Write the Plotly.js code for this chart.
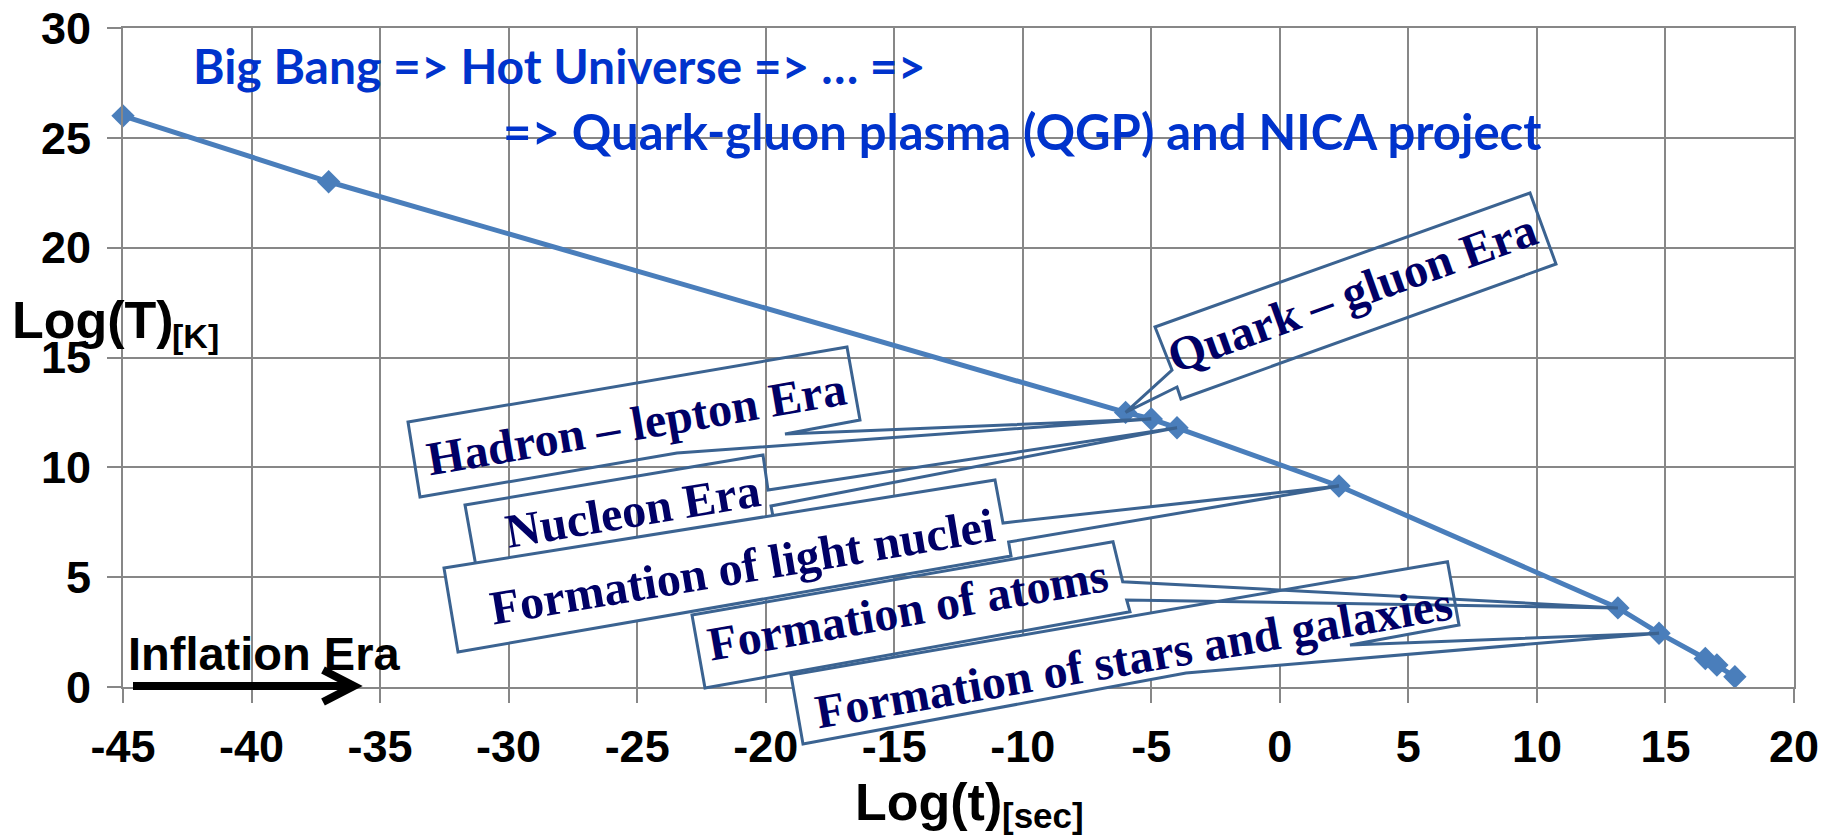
<!DOCTYPE html>
<html>
<head>
<meta charset="utf-8">
<script src="https://cdn.plot.ly/plotly-3.0.1.min.js"></script>
<style>
html, body { margin: 0; padding: 0; background: #ffffff; }
#chart { width: 1833px; height: 839px; }
</style>
</head>
<body>
<div id="chart"></div>
<script>
// ---------------- data ----------------
const logTime = [-45, -37, -6, -5, -4, 2.3, 13.15, 14.75, 16.55, 17.0, 17.7];
const logTemp = [26, 23, 12.5, 12.2, 11.8, 9.15, 3.6, 2.45, 1.3, 1.0, 0.47];

const xTickVals = [-45, -40, -35, -30, -25, -20, -15, -10, -5, 0, 5, 10, 15, 20];
const xTickText = ["-45", "-40", "-35", "-30", "-25", "-20", "-15", "-10", "-5", "0", "5", "10", "15", "20"];
const yTickVals = [0, 5, 10, 15, 20, 25, 30];
const yTickText = ["0", "5", "10", "15", "20", "25", "30"];

const eraLabels = [
  "Quark \u2013 gluon Era",
  "Hadron \u2013 lepton Era",
  "Nucleon Era",
  "Formation of light nuclei",
  "Formation of atoms",
  "Formation of stars and galaxies"
];
const eraPointIndex = [2, 3, 4, 5, 6, 7];

const titleLines = [
  "Big Bang => Hot Universe => \u2026 =>",
  "=> Quark-gluon plasma (QGP) and NICA project"
];
const inflationLabel = "Inflation Era";
const yTitleMain = "Log(T)", yTitleSub = "[K]";
const xTitleMain = "Log(t)", xTitleSub = "[sec]";

// ---------------- geometry helpers ----------------
const W = 1833, H = 839;
const M = { l: 123, r: 39, t: 28, b: 152 };
const PW = W - M.l - M.r, PH = H - M.t - M.b;
const xRange = [-45, 20], yRange = [0, 30];

function px(x) { return (x - M.l) / PW; }
function py(y) { return (H - M.b - y) / PH; }
function dataToPx(xv, yv) {
  return [M.l + (xv - xRange[0]) / (xRange[1] - xRange[0]) * PW,
          H - M.b - (yv - yRange[0]) / (yRange[1] - yRange[0]) * PH];
}
function pathFrom(points, close) {
  return 'M ' + points.map(p => px(p[0]).toFixed(5) + ',' + py(p[1]).toFixed(5)).join(' L ') + (close ? ' Z' : '');
}

// callout outlines (pixel positions), wedge tip goes to the data point
const callouts = [
  { fill: 'rgba(0,0,0,0)', text: [1352, 292], angle: 19.7,
    before: [[1155, 327], [1530, 193], [1556, 264], [1181, 399], [1177, 387]],
    after: [[1172, 370]] },
  { fill: 'rgba(0,0,0,0)', text: [636, 423], angle: 9.7,
    before: [[408, 422], [847, 347], [860, 420], [785, 434]],
    after: [[677, 453], [420, 497]] },
  { fill: 'rgba(0,0,0,0)', text: [632, 510], angle: 9.5,
    before: [[465, 505], [763, 455], [768, 490]],
    after: [[771, 506], [775, 527], [477, 572]] },
  { fill: '#ffffff', text: [742, 566], angle: 9.5,
    before: [[444, 568], [995, 480], [1003, 523]],
    after: [[1008.6, 542], [1011, 556], [458, 652]] },
  { fill: 'rgba(0,0,0,0)', text: [907, 609], angle: 10,
    before: [[692, 615], [1113, 541.7], [1122.7, 581.7]],
    after: [[1126.7, 600], [1130, 611.7], [705, 688]] },
  { fill: '#ffffff', text: [1133, 657], angle: 9.8,
    before: [[791, 675], [1447.5, 561.7], [1459, 625], [1350, 645]],
    after: [[1186, 673], [803, 744]] }
];
const drawOrder = [0, 1, 2, 3, 5, 4];

const shapes = [];
const annotations = [];

drawOrder.forEach(i => {
  const c = callouts[i];
  const k = eraPointIndex[i];
  const tip = dataToPx(logTime[k], logTemp[k]);
  const pts = c.before.concat([tip]).concat(c.after);
  shapes.push({
    type: 'path', xref: 'paper', yref: 'paper', layer: 'above',
    path: pathFrom(pts, true),
    fillcolor: c.fill,
    line: { color: '#3b6391', width: 3 }
  });
});

callouts.forEach((c, i) => {
  annotations.push({
    xref: 'paper', yref: 'paper', x: px(c.text[0]), y: py(c.text[1]),
    xanchor: 'center', yanchor: 'middle', showarrow: false,
    textangle: -c.angle, borderpad: 0, borderwidth: 0,
    text: '<b>' + eraLabels[i] + '</b>',
    font: { family: 'Liberation Serif, Times New Roman, serif', size: 48, color: '#000066' }
  });
});

// inflation arrow
shapes.push({
  type: 'path', xref: 'paper', yref: 'paper', layer: 'above',
  path: pathFrom([[133, 686], [350, 686]], false),
  line: { color: '#000000', width: 8 }
});
shapes.push({
  type: 'path', xref: 'paper', yref: 'paper', layer: 'above',
  path: pathFrom([[323, 670], [354, 686], [323, 702]], false),
  line: { color: '#000000', width: 8 }
});

const sansBold = 'Liberation Sans, Arial, sans-serif';
function textAnn(str, leftPx, baselinePx, size, family, color, ascentOffset) {
  return {
    xref: 'paper', yref: 'paper', x: px(leftPx), y: py(baselinePx - ascentOffset * size),
    xanchor: 'left', yanchor: 'middle', showarrow: false, borderpad: 0, borderwidth: 0,
    text: '<b>' + str + '</b>',
    font: { family: family, size: size, color: color }
  };
}

annotations.push(textAnn(inflationLabel, 128, 670, 47, sansBold, '#000000', 0.3465));
annotations.push(textAnn(yTitleMain, 12, 338, 52, sansBold, '#000000', 0.3465));
annotations.push(textAnn(yTitleSub, 172, 348, 34, sansBold, '#000000', 0.3465));
annotations.push(textAnn(xTitleMain, 855, 820, 52, sansBold, '#000000', 0.3465));
annotations.push(textAnn(xTitleSub, 1002, 828, 35, sansBold, '#000000', 0.3465));
annotations.push(textAnn(titleLines[0], 193, 84, 48, 'Lato, Open Sans, sans-serif', '#0033cc', 0.387));
annotations.push(textAnn(titleLines[1], 503, 150, 49, 'Lato, Open Sans, sans-serif', '#0033cc', 0.387));

const gridGray = '#878787';
const axisCommon = {
  showgrid: true, gridcolor: gridGray, gridwidth: 2,
  showline: true, linecolor: gridGray, linewidth: 2, mirror: true,
  ticks: 'outside', ticklen: 14, tickwidth: 2, tickcolor: gridGray,
  zeroline: false, tickmode: 'array', fixedrange: true,
  tickfont: { family: sansBold, size: 45, color: '#000000', weight: 'bold' }
};

const trace = {
  type: 'scatter', mode: 'lines+markers',
  x: logTime, y: logTemp,
  line: { color: '#4a7ebb', width: 5 },
  marker: { symbol: 'diamond', size: 18, color: '#4a7ebb' },
  cliponaxis: false, hoverinfo: 'skip', showlegend: false
};

const layout = {
  width: W, height: H,
  margin: { l: M.l, r: M.r, t: M.t, b: M.b, autoexpand: false },
  paper_bgcolor: '#ffffff', plot_bgcolor: '#ffffff',
  showlegend: false,
  xaxis: Object.assign({}, axisCommon, {
    range: xRange, tickvals: xTickVals, ticktext: xTickText, ticklabelstandoff: 5
  }),
  yaxis: Object.assign({}, axisCommon, {
    range: yRange, tickvals: yTickVals, ticktext: yTickText, ticklabelstandoff: 7
  }),
  shapes: shapes,
  annotations: annotations
};

Plotly.newPlot('chart', [trace], layout, { staticPlot: true, displayModeBar: false });
</script>
</body>
</html>
